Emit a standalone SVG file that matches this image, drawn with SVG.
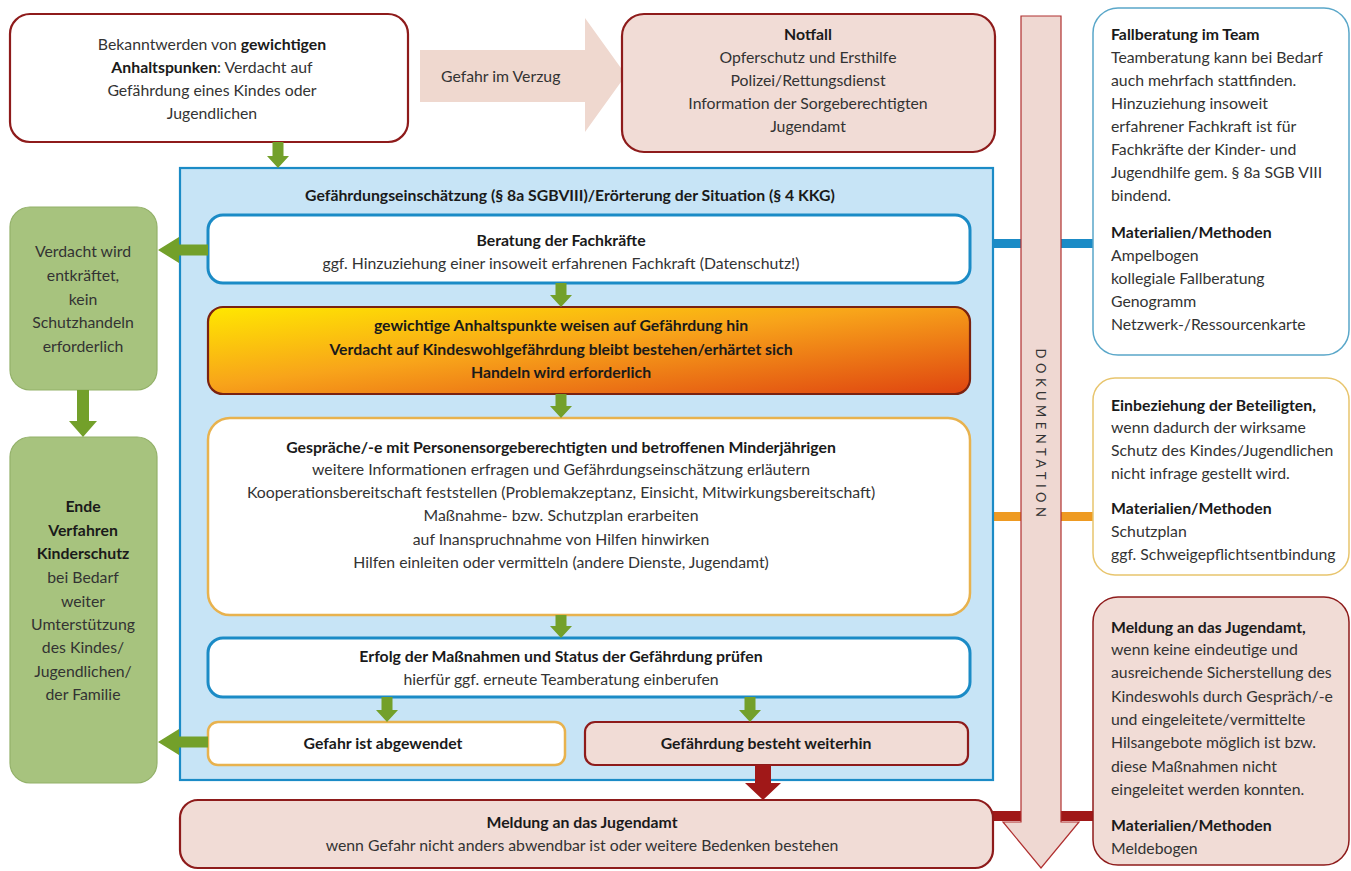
<svg xmlns="http://www.w3.org/2000/svg" width="1351" height="871" viewBox="0 0 1351 871">
<defs>
<linearGradient id="grad" x1="0" y1="0" x2="1" y2="1">
<stop offset="0" stop-color="#FFE800"/>
<stop offset="0.45" stop-color="#F8A41A"/>
<stop offset="1" stop-color="#DF4410"/>
</linearGradient>
<style>
text{font-family:Lato,"Open Sans","Liberation Sans",sans-serif;font-size:15.8px;fill:#333}
.b{font-weight:bold;fill:#1a1a1a}
.c{text-anchor:middle}
.red{fill:#F1DCD6;stroke:#8E1B1B;stroke-width:2.2}
.wred{fill:#fff;stroke:#8E1B1B;stroke-width:2.2}
.blue{fill:#fff;stroke:#1B8BC6;stroke-width:3}
.gold{fill:#fff;stroke:#E8B24E;stroke-width:2.5}
.green{fill:#A7C37E;stroke:#93B169;stroke-width:1.2}
.ga{fill:#73A02A}
</style>
</defs>
<rect width="1351" height="871" fill="#fff"/>

<g id="connectors">
<path d="M420 50 H585 V18 L626 75 L585 132 V102 H420 Z" fill="#EFD8CF"/>
<rect x="970" y="239" width="123" height="9" fill="#1B8BC6"/>
<rect x="970" y="512" width="123" height="9" fill="#EE9A22"/>
<rect x="993" y="811" width="100" height="10" fill="#A01818"/>
</g>

<g id="container">
<rect x="180" y="168" width="813" height="612" fill="#C7E4F6" stroke="#1B8BC6" stroke-width="2.2"/>
<text x="570" y="201" class="b c">Gefährdungseinschätzung (§ 8a SGBVIII)/Erörterung der Situation (§ 4 KKG)</text>
</g>

<g id="doku">
<path d="M1021 16 H1061 V822 H1079 L1041 868 L1003 822 H1021 Z" fill="#EFD8D2" stroke="#B03030" stroke-width="1.2"/>
<text transform="translate(1036 435) rotate(90)" class="c" style="font-size:13px;letter-spacing:4.5px">DOKUMENTATION</text>
</g>

<g id="start">
<rect x="10" y="14" width="398" height="128" rx="20" class="wred"/>
<text x="212" y="50" class="c">Bekanntwerden von <tspan class="b">gewichtigen</tspan></text>
<text x="212" y="73" class="c"><tspan class="b">Anhaltspunken</tspan>: Verdacht auf</text>
<text x="212" y="96" class="c">Gefährdung eines Kindes oder</text>
<text x="212" y="119" class="c">Jugendlichen</text>
</g>

<g id="gefahr-label">
<text x="441" y="82">Gefahr im Verzug</text>
</g>

<g id="notfall">
<rect x="622" y="14" width="373" height="138" rx="22" class="red"/>
<text x="808" y="40" class="b c">Notfall</text>
<text x="808" y="63" class="c">Opferschutz und Ersthilfe</text>
<text x="808" y="86" class="c">Polizei/Rettungsdienst</text>
<text x="808" y="109" class="c">Information der Sorgeberechtigten</text>
<text x="808" y="132" class="c">Jugendamt</text>
</g>

<g id="beratung">
<rect x="208" y="215" width="762" height="68" rx="15" class="blue"/>
<text x="561" y="246" class="b c">Beratung der Fachkräfte</text>
<text x="561" y="269" class="c">ggf. Hinzuziehung einer insoweit erfahrenen Fachkraft (Datenschutz!)</text>
</g>

<g id="anhaltspunkte">
<rect x="208" y="307" width="762" height="87" rx="15" fill="url(#grad)" stroke="#7A2210" stroke-width="2.2"/>
<text x="561" y="331" class="b c">gewichtige Anhaltspunkte weisen auf Gefährdung hin</text>
<text x="561" y="355" class="b c">Verdacht auf  Kindeswohlgefährdung bleibt bestehen/erhärtet sich</text>
<text x="561" y="378" class="b c">Handeln wird erforderlich</text>
</g>

<g id="gespraeche">
<rect x="208" y="418" width="762" height="197" rx="22" class="gold"/>
<text x="561" y="453" class="b c">Gespräche/-e mit Personensorgeberechtigten und betroffenen Minderjährigen</text>
<text x="561" y="475" class="c">weitere Informationen erfragen und Gefährdungseinschätzung erläutern</text>
<text x="561" y="498" class="c">Kooperationsbereitschaft feststellen (Problemakzeptanz, Einsicht, Mitwirkungsbereitschaft)</text>
<text x="561" y="521" class="c">Maßnahme- bzw. Schutzplan erarbeiten</text>
<text x="561" y="545" class="c">auf Inanspruchnahme von Hilfen hinwirken</text>
<text x="561" y="568" class="c">Hilfen einleiten oder vermitteln (andere Dienste, Jugendamt)</text>
</g>

<g id="erfolg">
<rect x="208" y="638" width="762" height="59" rx="15" class="blue"/>
<text x="561" y="662" class="b c">Erfolg der Maßnahmen und Status der Gefährdung prüfen</text>
<text x="561" y="685" class="c">hierfür ggf. erneute Teamberatung einberufen</text>
</g>

<g id="abgewendet">
<rect x="208" y="722" width="357" height="43" rx="10" class="gold"/>
<text x="383" y="749" class="b c">Gefahr ist abgewendet</text>
</g>

<g id="weiterhin">
<rect x="585" y="722" width="383" height="43" rx="10" class="red"/>
<text x="766" y="749" class="b c">Gefährdung besteht weiterhin</text>
</g>

<g id="meldung">
<rect x="180" y="800" width="813" height="68" rx="18" class="red"/>
<text x="582" y="828" class="b c">Meldung an das Jugendamt</text>
<text x="582" y="851" class="c">wenn Gefahr nicht anders abwendbar ist oder weitere Bedenken bestehen</text>
</g>

<g id="entkraeftet">
<rect x="10" y="207" width="147" height="183" rx="20" class="green"/>
<text x="83" y="257" class="c">Verdacht wird</text>
<text x="83" y="281" class="c">entkräftet,</text>
<text x="83" y="305" class="c">kein</text>
<text x="83" y="328" class="c">Schutzhandeln</text>
<text x="83" y="352" class="c">erforderlich</text>
</g>

<g id="ende">
<rect x="10" y="437" width="147" height="346" rx="20" class="green"/>
<text x="83" y="512" class="b c">Ende</text>
<text x="83" y="536" class="b c">Verfahren</text>
<text x="83" y="559" class="b c">Kinderschutz</text>
<text x="83" y="583" class="c">bei Bedarf</text>
<text x="83" y="607" class="c">weiter</text>
<text x="83" y="630" class="c">Umterstützung</text>
<text x="83" y="653" class="c">des Kindes/</text>
<text x="83" y="677" class="c">Jugendlichen/</text>
<text x="83" y="700" class="c">der Familie</text>
</g>

<g id="fallberatung">
<rect x="1093" y="8" width="256" height="347" rx="25" fill="#fff" stroke="#5AA7C9" stroke-width="1.5"/>
<text x="1111" y="40" class="b">Fallberatung im Team</text>
<text x="1111" y="63">Teamberatung kann bei Bedarf</text>
<text x="1111" y="86">auch mehrfach stattfinden.</text>
<text x="1111" y="109">Hinzuziehung insoweit</text>
<text x="1111" y="132">erfahrener Fachkraft ist für</text>
<text x="1111" y="155">Fachkräfte der Kinder- und</text>
<text x="1111" y="178">Jugendhilfe gem. § 8a SGB VIII</text>
<text x="1111" y="201">bindend.</text>
<text x="1111" y="238" class="b">Materialien/Methoden</text>
<text x="1111" y="261">Ampelbogen</text>
<text x="1111" y="284">kollegiale Fallberatung</text>
<text x="1111" y="307">Genogramm</text>
<text x="1111" y="330">Netzwerk-/Ressourcenkarte</text>
</g>

<g id="einbeziehung">
<rect x="1093" y="378" width="256" height="197" rx="22" fill="#fff" stroke="#E8C56E" stroke-width="1.5"/>
<text x="1111" y="411" class="b">Einbeziehung der Beteiligten,</text>
<text x="1111" y="433">wenn dadurch der wirksame</text>
<text x="1111" y="456">Schutz des Kindes/Jugendlichen</text>
<text x="1111" y="479">nicht infrage gestellt wird.</text>
<text x="1111" y="514" class="b">Materialien/Methoden</text>
<text x="1111" y="537">Schutzplan</text>
<text x="1111" y="560">ggf. Schweigepflichtsentbindung</text>
</g>

<g id="meldung-info">
<rect x="1093" y="597" width="256" height="268" rx="25" fill="#F1DCD6" stroke="#8E1B1B" stroke-width="1.5"/>
<text x="1111" y="633" class="b">Meldung an das Jugendamt,</text>
<text x="1111" y="655">wenn keine eindeutige und</text>
<text x="1111" y="678">ausreichende Sicherstellung des</text>
<text x="1111" y="702">Kindeswohls durch Gespräch/-e</text>
<text x="1111" y="725">und eingeleitete/vermittelte</text>
<text x="1111" y="748">Hilsangebote möglich ist bzw.</text>
<text x="1111" y="772">diese Maßnahmen nicht</text>
<text x="1111" y="795">eingeleitet werden konnten.</text>
<text x="1111" y="831" class="b">Materialien/Methoden</text>
<text x="1111" y="854">Meldebogen</text>
</g>

<g id="arrows">
<path class="ga" d="M272.5 142 H283.5 V156 H289 L278 168 L267 156 H272.5 Z"/>
<path class="ga" d="M555.5 283 H566.5 V295 H572 L561 307 L550 295 H555.5 Z"/>
<path class="ga" d="M555.5 394 H566.5 V406 H572 L561 418 L550 406 H555.5 Z"/>
<path class="ga" d="M555.5 615 H566.5 V626 H572 L561 638 L550 626 H555.5 Z"/>
<path class="ga" d="M381.5 697 H392.5 V710 H398 L387 722 L376 710 H381.5 Z"/>
<path class="ga" d="M744.5 697 H755.5 V710 H761 L750 722 L739 710 H744.5 Z"/>
<path class="ga" d="M77 390 H89 V421 H97 L83 437 L69 421 H77 Z"/>
<path class="ga" d="M208 244.5 V255.5 H179 V263 L158 250 L179 237 V244.5 Z"/>
<path class="ga" d="M208 736.5 V747.5 H179 V755 L158 742 L179 729 V736.5 Z"/>
<path fill="#A01818" d="M755 765 H771 V783 H781 L763 800 L745 783 H755 Z"/>
</g>
</svg>
